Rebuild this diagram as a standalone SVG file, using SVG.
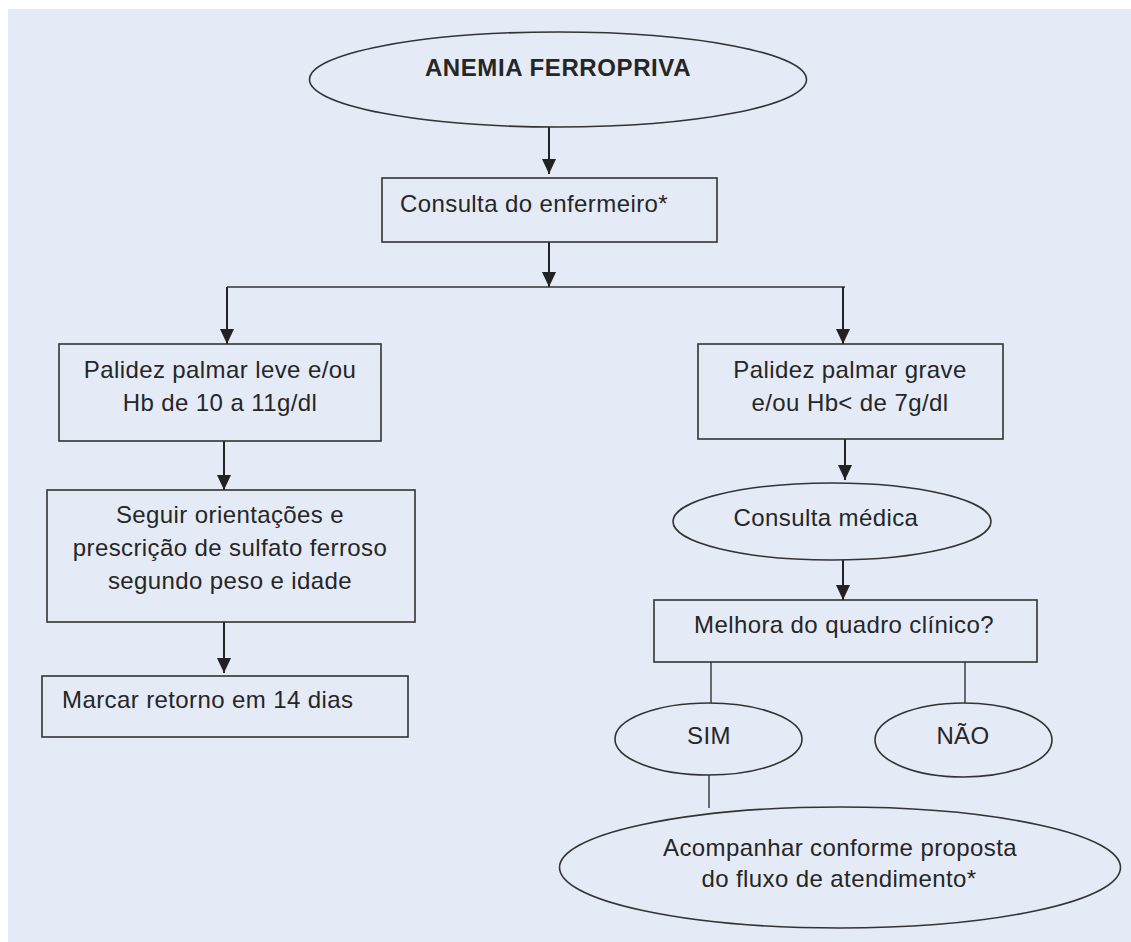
<svg xmlns="http://www.w3.org/2000/svg" width="1131" height="942" viewBox="0 0 1131 942">
  <style>
    .shape { fill: none; stroke: #333333; stroke-width: 1.6; }
    .txt { font-family: "Liberation Sans", Arial, sans-serif; font-size: 24px; fill: #262626; letter-spacing: 0.4px; }
    .mid { text-anchor: middle; }
    .title { font-weight: bold; letter-spacing: 0.6px; }
    .arrow { stroke: #222222; stroke-width: 2; fill: none; marker-end: url(#head); }
    .link { stroke: #333333; stroke-width: 1.4; fill: none; }
  </style>
  <defs>
    <marker id="head" viewBox="0 0 15 14" refX="15" refY="7" markerWidth="15" markerHeight="14" markerUnits="userSpaceOnUse" orient="auto">
      <path d="M0,0 L15,7 L0,14 z" fill="#222222"/>
    </marker>
  </defs>

  <!-- page background -->
  <rect x="8" y="9" width="1123" height="933" fill="#e4eaf6"/>

  <!-- connectors -->
  <g id="connectors">
    <line class="arrow" x1="549" y1="127" x2="549" y2="174"/>
    <line class="arrow" x1="549" y1="242" x2="549" y2="287"/>
    <line class="link" x1="227" y1="287" x2="845" y2="287" stroke-width="1.8"/>
    <line class="arrow" x1="227" y1="287" x2="227" y2="344"/>
    <line class="arrow" x1="843" y1="287" x2="843" y2="344" stroke-width="1.5"/>
    <line class="arrow" x1="224" y1="441" x2="224" y2="490"/>
    <line class="arrow" x1="224" y1="622" x2="224" y2="673"/>
    <line class="arrow" x1="845" y1="439" x2="845" y2="480"/>
    <line class="arrow" x1="843" y1="560" x2="843" y2="600" stroke-width="1.5"/>
    <line class="link" x1="711" y1="662" x2="711" y2="703"/>
    <line class="link" x1="965" y1="662" x2="965" y2="703"/>
    <line class="link" x1="709" y1="775" x2="709" y2="808"/>
  </g>

  <!-- start -->
  <g id="anemia-ferropriva">
    <ellipse class="shape" cx="558" cy="79.5" rx="248.5" ry="47.5"/>
    <text class="txt mid title" x="558" y="76">ANEMIA FERROPRIVA</text>
  </g>

  <g id="consulta-enfermeiro">
    <rect class="shape" x="382" y="178" width="335" height="64"/>
    <text class="txt" x="400" y="212">Consulta do enfermeiro*</text>
  </g>

  <!-- left branch -->
  <g id="palidez-leve">
    <rect class="shape" x="59" y="344" width="322" height="97"/>
    <text class="txt mid" x="220" y="378">Palidez palmar leve e/ou</text>
    <text class="txt mid" x="220" y="411">Hb de 10 a 11g/dl</text>
  </g>

  <g id="seguir-orientacoes">
    <rect class="shape" x="47" y="490" width="368" height="132"/>
    <text class="txt mid" x="230" y="523">Seguir orientações e</text>
    <text class="txt mid" x="230" y="556">prescrição de sulfato ferroso</text>
    <text class="txt mid" x="230" y="589">segundo peso e idade</text>
  </g>

  <g id="marcar-retorno">
    <rect class="shape" x="42" y="676" width="366" height="61"/>
    <text class="txt" x="62" y="708">Marcar retorno em 14 dias</text>
  </g>

  <!-- right branch -->
  <g id="palidez-grave">
    <rect class="shape" x="698" y="344" width="305" height="95"/>
    <text class="txt mid" x="850" y="378">Palidez palmar grave</text>
    <text class="txt mid" x="850" y="411">e/ou Hb&lt; de 7g/dl</text>
  </g>

  <g id="consulta-medica">
    <ellipse class="shape" cx="832" cy="521.5" rx="159" ry="38.5"/>
    <text class="txt mid" x="826" y="526">Consulta médica</text>
  </g>

  <g id="melhora-quadro">
    <rect class="shape" x="654" y="600" width="383" height="62"/>
    <text class="txt mid" x="844" y="633">Melhora do quadro clínico?</text>
  </g>

  <g id="sim">
    <ellipse class="shape" cx="708.5" cy="739" rx="93.5" ry="36"/>
    <text class="txt mid" x="709" y="744">SIM</text>
  </g>

  <g id="nao">
    <ellipse class="shape" cx="963.5" cy="740" rx="88.5" ry="37"/>
    <text class="txt mid" x="963" y="744">NÃO</text>
  </g>

  <g id="acompanhar">
    <ellipse class="shape" cx="840" cy="867.5" rx="280.5" ry="60.5"/>
    <text class="txt mid" x="840" y="856">Acompanhar conforme proposta</text>
    <text class="txt mid" x="839" y="887">do fluxo de atendimento*</text>
  </g>
</svg>
